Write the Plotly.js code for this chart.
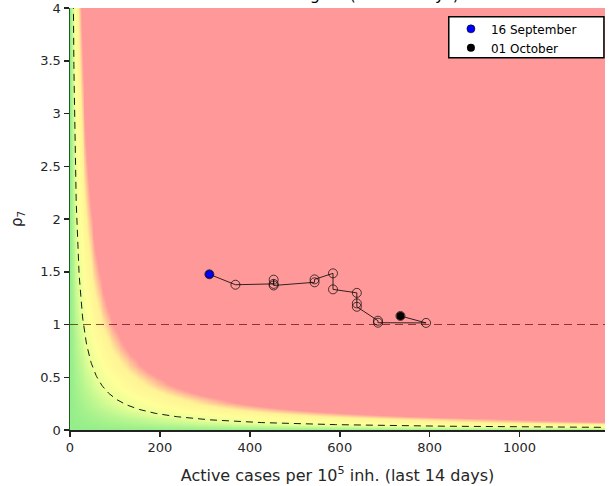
<!DOCTYPE html>
<html>
<head>
<meta charset="utf-8">
<script src="https://cdn.plot.ly/plotly-3.0.1.min.js"></script>
<style>html,body{margin:0;padding:0;background:#fff;}#chart{width:609px;height:486px;}</style>
</head>
<body>
<div id="chart"></div>
<script>
// Daily trajectory: active cases per 1e5 inh. (last 14 days) and rho7
const casesPer1e5 = [310, 368, 453, 453, 453, 544, 544, 585, 585, 638, 638, 638, 685, 685, 792, 735];
const rho7        = [1.476, 1.377, 1.385, 1.425, 1.370, 1.400, 1.428, 1.485, 1.333, 1.300, 1.200, 1.168, 1.036, 1.017, 1.015, 1.081];
const startLabel = "16 September";
const endLabel   = "01 October";

const xMax = 1190, yMax = 4;
const epgThreshold = 30;      // dashed risk curve x*rho = 30
const xTicks = [0, 200, 400, 600, 800, 1000];
const yTicks = [0, 0.5, 1, 1.5, 2, 2.5, 3, 3.5, 4];

// background risk field (x * rho)
const gx = [], gy = [];
for (let i = 0; i <= 298; i++) gx.push(i * 4);
for (let j = 0; j <= 200; j++) gy.push(j * 0.02);
const gz = gy.map(yv => gx.map(xv => xv * yv));

// threshold curve
const cx = [], cy = [];
for (let i = 0; i <= 400; i++) {
  const xv = 7 + (xMax - 7) * Math.pow(i / 400, 2);
  cx.push(xv); cy.push(epgThreshold / xv);
}

const n = casesPer1e5.length;
const traces = [
  {type: 'heatmap', x: gx, y: gy, z: gz, zmin: 0, zmax: 100, zsmooth: 'best',
   showscale: false, hoverinfo: 'skip',
   colorscale: [[0, 'rgb(148,238,138)'], [0.28, 'rgb(232,255,150)'], [0.45, 'rgb(255,255,153)'],
                [0.72, 'rgb(255,242,150)'], [0.97, 'rgb(255,153,153)'], [1, 'rgb(255,153,153)']]},
  {type: 'scatter', mode: 'lines', x: cx, y: cy, showlegend: false, hoverinfo: 'skip',
   line: {color: '#000', width: 0.9, dash: '7px,5px'}},
  {type: 'scatter', mode: 'lines', x: [0, xMax], y: [1, 1], showlegend: false, hoverinfo: 'skip',
   line: {color: 'rgba(90,0,0,0.75)', width: 0.9, dash: '8px,5px'}},
  {type: 'scatter', mode: 'lines+markers', x: casesPer1e5, y: rho7, showlegend: false, hoverinfo: 'skip',
   line: {color: '#000', width: 0.8},
   marker: {symbol: 'circle-open', size: 9, color: '#000', line: {width: 0.7}}},
  {type: 'scatter', mode: 'markers', x: [casesPer1e5[0]], y: [rho7[0]], name: startLabel,
   marker: {color: '#0000ff', size: 8, line: {width: 0.6, color: '#000'}}},
  {type: 'scatter', mode: 'markers', x: [casesPer1e5[n - 1]], y: [rho7[n - 1]], name: endLabel,
   marker: {color: '#000', size: 8}}
];

const font = {family: 'DejaVu Sans, sans-serif', size: 13, color: '#262626'};
const layout = {
  width: 609, height: 486,
  margin: {l: 70, r: 4, t: 8, b: 56},
  paper_bgcolor: '#fff', plot_bgcolor: '#fff',
  font: font,
  showlegend: true,
  legend: {x: 0.712, xanchor: 'left', y: 0.985, yanchor: 'top',
           bgcolor: 'rgba(0,0,0,0)', borderwidth: 0,
           font: {family: 'DejaVu Sans, sans-serif', size: 12, color: '#000'},
           itemwidth: 30, tracegroupgap: 0},
  shapes: [{type: 'rect', xref: 'paper', yref: 'paper', x0: 0.708, x1: 0.998, y0: 0.882, y1: 0.979,
            fillcolor: '#fff', line: {color: '#000', width: 1.5}, layer: 'above'}],
  xaxis: {range: [0, xMax], tickvals: xTicks, ticktext: xTicks.map(String),
          showgrid: false, zeroline: false, showline: true, linecolor: '#222', linewidth: 1.5,
          ticks: 'outside', ticklen: 5, tickwidth: 1.5, tickcolor: '#222',
          title: {text: 'Active cases per 10<sup>5</sup> inh. (last 14 days)', font: {size: 16, color: '#262626'}, standoff: 15}},
  yaxis: {range: [0, yMax], tickvals: yTicks, ticktext: yTicks.map(String),
          showgrid: false, zeroline: false, showline: true, linecolor: '#1f5a1f', linewidth: 1.5,
          ticks: 'outside', ticklen: 5, tickwidth: 1.5, tickcolor: '#222',
          title: {text: 'ρ<sub>7</sub>', font: {size: 15, color: '#262626'}, standoff: 14}},
  annotations: [{text: 'Catalonia region (last 14 days)', xref: 'paper', yref: 'paper',
                 x: 0.73, xanchor: 'right', y: 1, yanchor: 'bottom', yshift: 2, showarrow: false,
                 font: {family: 'DejaVu Sans, sans-serif', size: 16, color: '#000'}}]
};
Plotly.newPlot('chart', traces, layout, {staticPlot: true});
</script>
</body>
</html>
